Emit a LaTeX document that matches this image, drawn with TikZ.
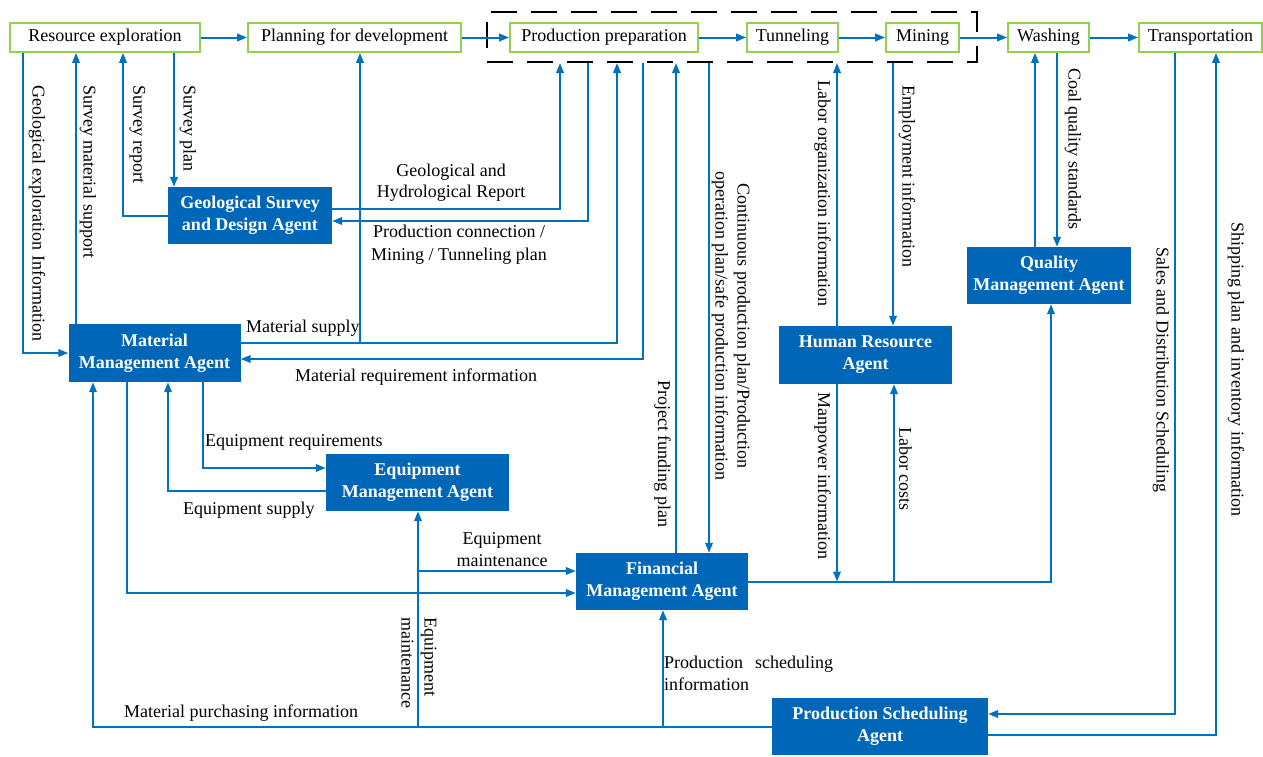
\documentclass[tikz,border=0pt]{standalone}
\usepackage{fontspec}
\setmainfont{Liberation Serif}
\usetikzlibrary{arrows.meta,calc}
\definecolor{lineblue}{RGB}{0,112,192}
\definecolor{agentblue}{RGB}{0,103,184}
\definecolor{boxgreen}{RGB}{146,208,80}
\begin{document}
\begin{tikzpicture}[x=1pt,y=-1pt,
  font=\fontsize{18}{21}\selectfont,
  topbox/.style={draw=boxgreen,line width=1.8pt,fill=white,minimum height=29pt,inner sep=0pt},
  agent/.style={fill=agentblue,text=white,font=\fontsize{18}{22}\selectfont\bfseries,align=center,inner sep=0pt},
  arr/.style={draw=lineblue,line width=2pt,-{Triangle[length=10pt,width=7.5pt]}},
  lab/.style={inner sep=0pt,font=\fontsize{18}{21}\selectfont},
  vlab/.style={lab,rotate=-90,anchor=west}]
\useasboundingbox (0,0) rectangle (1263,756);

% process group (dashed)
\node[draw=black,line width=2pt,dash pattern=on 26pt off 14pt,minimum width=490pt,minimum height=50pt,inner sep=0pt] (grp) at (732,37) {};

% top process boxes
\node[topbox,minimum width=190pt] (re) at (105,37.5) {Resource exploration};
\node[topbox,minimum width=213pt] (pd) at (354.5,37.5) {Planning for development};
\node[topbox,minimum width=188pt] (pp) at (604,37.5) {Production preparation};
\node[topbox,minimum width=91pt] (tu) at (792.5,37.5) {Tunneling};
\node[topbox,minimum width=73pt] (mi) at (922.5,37.5) {Mining};
\node[topbox,minimum width=81pt] (wa) at (1048.5,37.5) {Washing};
\node[topbox,minimum width=123pt] (tr) at (1200.5,37.5) {Transportation};

% agents
\node[agent,minimum width=164pt,minimum height=57pt] (gs) at (250,215.5) {Geological Survey\\and Design Agent};
\node[agent,minimum width=172pt,minimum height=58pt] (mm) at (154.5,353) {Material\\Management Agent};
\node[agent,minimum width=183pt,minimum height=57pt] (eq) at (417.5,482.5) {Equipment\\Management Agent};
\node[agent,minimum width=172pt,minimum height=57pt] (fm) at (662,581.5) {Financial\\Management Agent};
\node[agent,minimum width=173pt,minimum height=58pt] (hr) at (865.5,355) {Human Resource\\Agent};
\node[agent,minimum width=164pt,minimum height=57pt] (qm) at (1049,275.5) {Quality\\Management Agent};
\node[agent,minimum width=216pt,minimum height=57pt] (ps) at (880,726.5) {Production Scheduling\\Agent};

% top chain
\draw[arr] (re.east) -- (pd.west);
\draw[arr] (pd.east) -- (pp.west);
\draw[arr] (pp.east) -- (tu.west);
\draw[arr] (tu.east) -- (mi.west);
\draw[arr] (mi.east) -- (wa.west);
\draw[arr] (wa.east) -- (tr.west);

% resource exploration links
\draw[arr] (re.south -| 23,0) |- (mm.west);
\draw[arr] (mm.north -| 76,0) -- (re.south -| 76,0);
\draw[arr] (gs.west) -| (re.south -| 123,0);
\draw[arr] (re.south -| 174,0) -- (gs.north -| 174,0);

% geological agent <-> production group
\draw[arr] (gs.east |- 0,209) -| (grp.south -| 560,0);
\draw[arr] (grp.south -| 588,0) |- (gs.east |- 0,221);

% material agent <-> production group / planning
\coordinate (msj) at (360,343);
\draw[arr] (mm.east |- 0,343) -| (grp.south -| 617,0);
\draw[arr] (msj) -- (pd.south -| 360,0);
\draw[arr] (grp.south -| 643,0) |- (mm.east |- 0,359);

% financial <-> production group
\draw[arr] (fm.north -| 676,0) -- (grp.south -| 676,0);
\draw[arr] (grp.south -| 709,0) -- (fm.north -| 709,0);

% human resource <-> group
\draw[arr] (hr.north -| 837,0) -- (grp.south -| 837,0);
\draw[arr] (grp.south -| 893,0) -- (hr.north -| 893,0);

% washing <-> quality
\draw[arr] (wa.south -| 1057,0) -- (qm.north -| 1057,0);
\draw[arr] (qm.north -| 1035,0) -- (wa.south -| 1035,0);

% financial -> quality, HR
\draw[arr] (fm.east) -| (qm.south -| 1051,0);
\draw[arr] (hr.south -| 837,0) -- (837,0 |- fm.east);
\draw[arr] (894,0 |- fm.east) -- (hr.south -| 894,0);

% transportation <-> production scheduling
\draw[arr] (tr.south -| 1175,0) |- (ps.east |- 0,714);
\draw[arr] (ps.east |- 0,735) -| (tr.south -| 1216,0);

% bottom bus
\draw[arr] (ps.west) -| (mm.south -| 93,0);
\draw[arr] (663,0 |- ps.west) -- (fm.south -| 663,0);
\draw[arr] (418,0 |- ps.west) -- (eq.south -| 418,0);
\coordinate (emj) at (418,571);
\draw[arr] (emj) -- (fm.west |- 0,571);
\draw[arr] (mm.south -| 127,0) |- (fm.west |- 0,593);

% material <-> equipment
\draw[arr] (mm.south -| 203,0) |- (eq.west |- 0,468);
\draw[arr] (eq.west |- 0,491) -| (mm.south -| 168,0);

% vertical labels
\node[vlab] (l1) at (37,85) {Geological exploration Information};
\node[vlab] (l2) at (88,85) {Survey material support};
\node[vlab] (l3) at (137.5,85) {Survey report};
\node[vlab] (l4) at (188,85) {Survey plan};
\node[vlab] (l5) at (822.5,80) {Labor organization information};
\node[vlab] (l6) at (907,85) {Employment information};
\node[vlab] (l7) at (1073,68) {Coal quality standards};
\node[vlab] (l8) at (1161,247) {Sales and Distribution Scheduling};
\node[vlab] (l9) at (1236,222) {Shipping plan and inventory information};
\node[vlab] (l10) at (662.5,380) {Project funding plan};
\node[vlab] (l11) at (822.5,392) {Manpower information};
\node[vlab] (l12) at (905.5,427) {Labor costs};
\node[lab,rotate=-90,align=center,font=\fontsize{18}{22}\selectfont] (l13) at (731,326) {Continuous production plan/Production\\operation plan/safe production information};
\node[vlab,align=left,font=\fontsize{18}{23}\selectfont] (l14) at (419,617) {Equipment\\maintenance};

% horizontal labels
\node[lab,align=center] (h1) at (451,183) {Geological and\\Hydrological Report};
\node[lab,align=center,font=\fontsize{18}{23}\selectfont] (h2) at (459,245) {Production connection /\\Mining / Tunneling plan};
\node[lab,anchor=west] (h3) at (246,328) {Material supply};
\node[lab,anchor=west] (h4) at (295,377) {Material requirement information};
\node[lab,anchor=west] (h5) at (205,442) {Equipment requirements};
\node[lab,anchor=west] (h6) at (183,510) {Equipment supply};
\node[lab,align=center,font=\fontsize{18}{22}\selectfont] (h7) at (502,550) {Equipment\\maintenance};
\node[lab,anchor=west,align=left,font=\fontsize{18}{22}\selectfont] (h8) at (664,673) {\makebox[169pt][s]{Production scheduling}\\information};
\node[lab,anchor=west] (h9) at (124,713) {Material purchasing information};
\end{tikzpicture}
\end{document}
